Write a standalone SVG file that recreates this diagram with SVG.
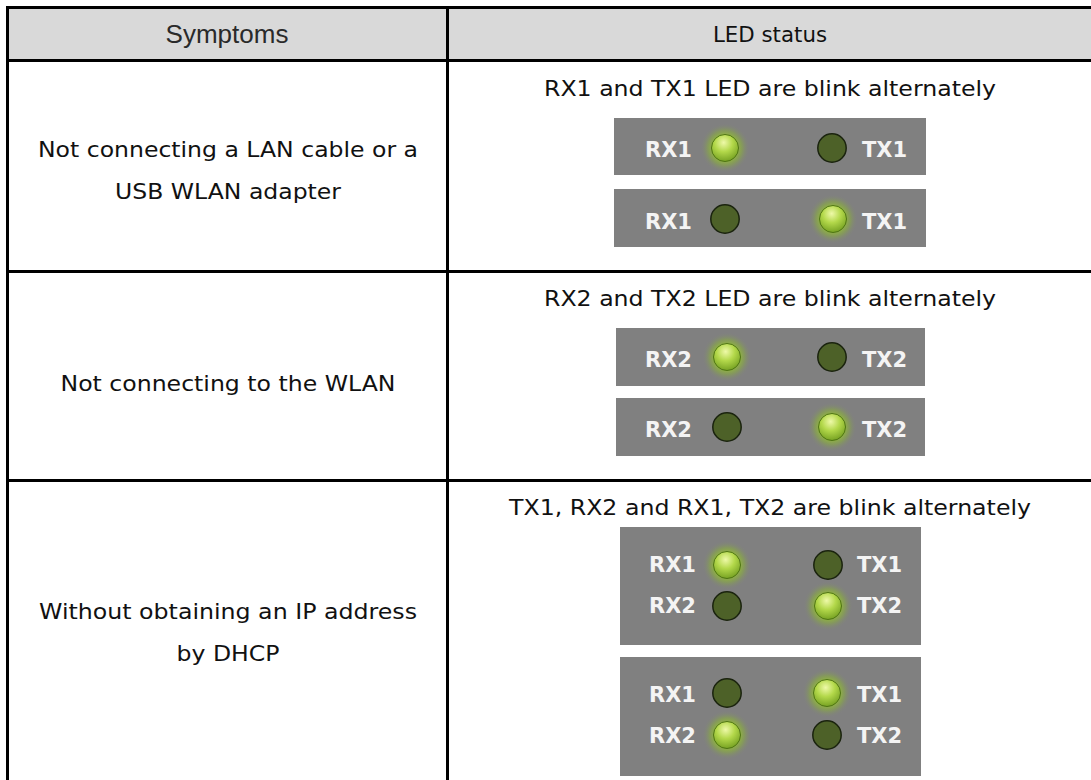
<svg xmlns="http://www.w3.org/2000/svg" xmlns:xlink="http://www.w3.org/1999/xlink" width="1091" height="780" viewBox="0 0 1091 780">
  <style>
    .grid { stroke: #000; stroke-width: 3; fill: none; }
    .head { font-family: "Liberation Sans", Arial, sans-serif; font-size: 26px; fill: #2a2a2a; text-anchor: middle; }
    .body { font-family: "DejaVu Sans", "Noto Sans", sans-serif; font-size: 22px; fill: #111; text-anchor: middle; }
    .panel { fill: #808080; }
    .lbl { font-family: "DejaVu Sans", "Noto Sans", sans-serif; font-size: 21px; font-weight: bold; fill: #f4f4f4; }
  </style>
  <defs>
    <radialGradient id="halo" cx="0.5" cy="0.5" r="0.5">
      <stop offset="0.4" stop-color="#9ccc2c" stop-opacity="0.9"/>
      <stop offset="0.7" stop-color="#8cbb2a" stop-opacity="0.4"/>
      <stop offset="1" stop-color="#808080" stop-opacity="0"/>
    </radialGradient>
    <radialGradient id="litFill" cx="0.45" cy="0.3" r="0.75">
      <stop offset="0" stop-color="#eef9a8"/>
      <stop offset="0.45" stop-color="#b3d84a"/>
      <stop offset="1" stop-color="#6f9b1e"/>
    </radialGradient>
    <g id="ledOn">
      <circle r="25" fill="url(#halo)"/>
      <circle r="13.5" fill="url(#litFill)" stroke="#4f7414" stroke-width="1"/>
    </g>
    <g id="ledOff">
      <circle r="14.2" fill="#4d6128" stroke="#1a230e" stroke-width="1.5"/>
    </g>
  </defs>

  <!-- header band -->
  <g id="header">
    <rect x="9" y="9" width="1082" height="50" fill="#d9d9d9"/>
    <text class="head" x="227" y="43">Symptoms</text>
    <text class="body" x="770" y="42" textLength="114" lengthAdjust="spacingAndGlyphs">LED status</text>
  </g>

  <!-- table rules -->
  <g id="grid" class="grid">
    <line x1="6" y1="7.5" x2="1091" y2="7.5"/>
    <line x1="7.5" y1="6" x2="7.5" y2="780"/>
    <line x1="447.5" y1="8" x2="447.5" y2="780"/>
    <line x1="6" y1="60.5" x2="1091" y2="60.5"/>
    <line x1="6" y1="271.5" x2="1091" y2="271.5"/>
    <line x1="6" y1="480.5" x2="1091" y2="480.5"/>
  </g>

  <!-- row 1 -->
  <g id="symptom1">
    <text class="body" x="228" y="157" textLength="380" lengthAdjust="spacingAndGlyphs">Not connecting a LAN cable or a</text>
    <text class="body" x="228" y="199" textLength="226" lengthAdjust="spacingAndGlyphs">USB WLAN adapter</text>
  </g>
  <g id="status1">
    <text class="body" x="770" y="96" textLength="452" lengthAdjust="spacingAndGlyphs">RX1 and TX1 LED are blink alternately</text>
    <g id="panel1a">
      <rect class="panel" x="614" y="118" width="312" height="57"/>
      <text class="lbl" x="645" y="157">RX1</text>
      <use xlink:href="#ledOn" x="725" y="148"/>
      <use xlink:href="#ledOff" x="832" y="148"/>
      <text class="lbl" x="862" y="157">TX1</text>
    </g>
    <g id="panel1b">
      <rect class="panel" x="614" y="189" width="312" height="58"/>
      <text class="lbl" x="645" y="229">RX1</text>
      <use xlink:href="#ledOff" x="725" y="219"/>
      <use xlink:href="#ledOn" x="833" y="219"/>
      <text class="lbl" x="862" y="229">TX1</text>
    </g>
  </g>

  <!-- row 2 -->
  <g id="symptom2">
    <text class="body" x="228" y="391" textLength="335" lengthAdjust="spacingAndGlyphs">Not connecting to the WLAN</text>
  </g>
  <g id="status2">
    <text class="body" x="770" y="306" textLength="452" lengthAdjust="spacingAndGlyphs">RX2 and TX2 LED are blink alternately</text>
    <g id="panel2a">
      <rect class="panel" x="616" y="328" width="309" height="58"/>
      <text class="lbl" x="645" y="367">RX2</text>
      <use xlink:href="#ledOn" x="727" y="357"/>
      <use xlink:href="#ledOff" x="832" y="357"/>
      <text class="lbl" x="862" y="367">TX2</text>
    </g>
    <g id="panel2b">
      <rect class="panel" x="616" y="398" width="309" height="58"/>
      <text class="lbl" x="645" y="437">RX2</text>
      <use xlink:href="#ledOff" x="727" y="427"/>
      <use xlink:href="#ledOn" x="832" y="427"/>
      <text class="lbl" x="862" y="437">TX2</text>
    </g>
  </g>

  <!-- row 3 -->
  <g id="symptom3">
    <text class="body" x="228" y="619" textLength="378" lengthAdjust="spacingAndGlyphs">Without obtaining an IP address</text>
    <text class="body" x="228" y="661" textLength="103" lengthAdjust="spacingAndGlyphs">by DHCP</text>
  </g>
  <g id="status3">
    <text class="body" x="770" y="515" textLength="522" lengthAdjust="spacingAndGlyphs">TX1, RX2 and RX1, TX2 are blink alternately</text>
    <g id="panel3a">
      <rect class="panel" x="620" y="527" width="301" height="118"/>
      <text class="lbl" x="649" y="572">RX1</text>
      <use xlink:href="#ledOn" x="727" y="565"/>
      <use xlink:href="#ledOff" x="828" y="565"/>
      <text class="lbl" x="857" y="572">TX1</text>
      <text class="lbl" x="649" y="613">RX2</text>
      <use xlink:href="#ledOff" x="727" y="606"/>
      <use xlink:href="#ledOn" x="828" y="606"/>
      <text class="lbl" x="857" y="613">TX2</text>
    </g>
    <g id="panel3b">
      <rect class="panel" x="620" y="657" width="301" height="119"/>
      <text class="lbl" x="649" y="702">RX1</text>
      <use xlink:href="#ledOff" x="727" y="693"/>
      <use xlink:href="#ledOn" x="827" y="693"/>
      <text class="lbl" x="857" y="702">TX1</text>
      <text class="lbl" x="649" y="743">RX2</text>
      <use xlink:href="#ledOn" x="727" y="735"/>
      <use xlink:href="#ledOff" x="827" y="735"/>
      <text class="lbl" x="857" y="743">TX2</text>
    </g>
  </g>
</svg>
